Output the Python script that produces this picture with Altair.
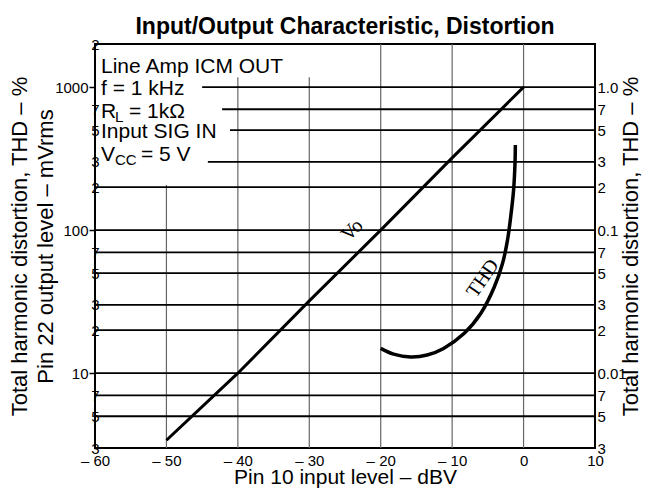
import altair as alt
import pandas as pd

# ---------------- data ----------------
vo_db = [-50, -40, -30, -20, -10, 0]
vo_mv = [3.4, 10, 32, 100, 320, 1000]

thd_db = [-20.0, -18.2, -15.8, -13.5, -11.2, -8.3, -6.0, -4.1, -2.95, -2.25, -1.8, -1.4, -1.2, -1.15]
thd_pct = [0.0149, 0.0136, 0.0130, 0.0134, 0.0149, 0.0190, 0.0261, 0.040, 0.0584,
           0.0851, 0.124, 0.190, 0.292, 0.393]

x_ticks = [-60, -50, -40, -30, -20, -10, 0, 10]
left_decades = [10, 100, 1000]
left_minor = [3, 5, 7, 20, 30, 50, 70, 200, 300, 500, 700, 2000]
right_ticks = [0.003, 0.005, 0.007, 0.01, 0.02, 0.03, 0.05, 0.07, 0.1, 0.2, 0.3, 0.5, 0.7, 1.0]

# horizontal grid lines (mV) and where each one starts (dBV); some start after the note text
hgrid_mv = [5, 7, 10, 20, 30, 50, 70, 100, 200, 300, 500, 700, 1000]
hgrid_start = [-60, -60, -60, -60, -60, -60, -60, -60, -60, -44.2, -41.1, -42.2, -45.0]
hgrid_end = [10] * len(hgrid_mv)
# vertical grid lines (dBV) and their top (mV)
vgrid_db = [-50, -40, -30, -20, -10, 0]
vgrid_top = [207, 1170, 1170, 2000, 2000, 2000]
vgrid_bottom = [3] * len(vgrid_db)

note_main = ["Line Amp ICM OUT", "f = 1 kHz", "R", "Input SIG IN", "V"]
note_main_mv = [1371, 969, 668, 484, 337]
note_sub = ["L", "CC"]
note_sub_mv = [668, 337]
note_tail1 = ["= 1kΩ"]
note_tail1_mv = [668]
note_tail2 = ["= 5 V"]
note_tail2_mv = [337]

curve_labels_vo = ["Vo"]
vo_label_db = [-24]
vo_label_mv = [100]
curve_labels_thd = ["THD"]
thd_label_db = [-5.7]
thd_label_pct = [0.046]

FONT = "Liberation Sans"
SERIF = "Liberation Serif"

# ---------------- scales & axes ----------------
xscale = alt.Scale(domain=[-60, 10], nice=False, zero=False)
mv_scale = alt.Scale(type="log", domain=[3, 2000], nice=False)
thd_scale = alt.Scale(type="log", domain=[0.003, 2], nice=False)

x_axis = alt.Axis(
    values=x_ticks,
    labelExpr="datum.value < 0 ? '– ' + toString(-datum.value) : toString(datum.value)",
    title="Pin 10 input level – dBV",
    grid=False, ticks=False, domain=False,
    labelFont=FONT, labelFontSize=15, labelColor="black", labelPadding=5,
    labelFlush=False, labelOverlap=False,
    titleFont=FONT, titleFontSize=21, titleFontWeight="normal", titleColor="black",
    titleY=35, titleBaseline="alphabetic",
)

decade_axis = alt.Axis(
    orient="left", values=left_decades, format="d",
    grid=False, domain=False, ticks=True, tickSize=6, tickColor="black", tickWidth=1.5,
    labelPadding=1, labelFont=FONT, labelFontSize=15, labelColor="black",
    labelOverlap=False, labelBound=False,
    title="Pin 22 output level – mVrms",
    titleFont=FONT, titleFontSize=22, titleFontWeight="normal", titleColor="black",
    titleAngle=270, titleX=-50, titleY=202, titleBaseline="middle", titleAlign="center",
)

minor_axis = alt.Axis(
    orient="left", values=left_minor,
    labelExpr="slice(toString(datum.value), 0, 1)",
    grid=False, domain=False, ticks=False,
    labelPadding=-4, labelFont=FONT, labelFontSize=15, labelColor="black",
    labelOverlap=False, labelBound=False,
    title="Total harmonic distortion, THD – %",
    titleFont=FONT, titleFontSize=22, titleFontWeight="normal", titleColor="black",
    titleAngle=270, titleX=-76, titleY=202, titleBaseline="middle", titleAlign="center",
)

right_axis = alt.Axis(
    orient="right", values=right_ticks,
    labelExpr="datum.value == 1 ? '1.0' : datum.value == 0.1 ? '0.1' : datum.value == 0.01 ? '0.01' : slice(toString(datum.value), -1)",
    grid=False, domain=False, ticks=False,
    labelPadding=2, labelFont=FONT, labelFontSize=15, labelColor="black",
    labelOverlap=False, labelBound=False,
    title="Total harmonic distortion, THD – %",
    titleFont=FONT, titleFontSize=22, titleFontWeight="normal", titleColor="black",
    titleAngle=270, titleX=35, titleY=202, titleBaseline="middle", titleAlign="center",
)


def X(field):
    return alt.X(field, type="quantitative", scale=xscale, axis=x_axis)


# ---------------- layers ----------------
hgrid = alt.Chart(pd.DataFrame({"mv": hgrid_mv, "start": hgrid_start, "end": hgrid_end})).mark_rule(
    color="black", strokeWidth=1.8
).encode(x=X("start"), x2="end", y=alt.Y("mv:Q", scale=mv_scale, axis=minor_axis))

vgrid = alt.Chart(pd.DataFrame({"db": vgrid_db, "top": vgrid_top, "bottom": vgrid_bottom})).mark_rule(
    color="#666666", strokeWidth=1.2
).encode(x=X("db"), y=alt.Y("bottom:Q", scale=mv_scale, axis=None), y2="top")

vo = alt.Chart(pd.DataFrame({"db": vo_db, "mv": vo_mv})).mark_line(
    color="black", strokeWidth=3
).encode(x=X("db"), y=alt.Y("mv:Q", scale=mv_scale, axis=decade_axis))

thd = alt.Chart(pd.DataFrame({"db": thd_db, "pct": thd_pct, "i": list(range(len(thd_db)))})).mark_line(
    color="black", strokeWidth=3.5, interpolate="catmull-rom"
).encode(x=X("db"), y=alt.Y("pct:Q", scale=thd_scale, axis=right_axis), order="i:Q")


def note_layer(texts, mvs, dx, dy=0, size=21):
    df = pd.DataFrame({"t": texts, "mv": mvs, "db": [-60] * len(texts)})
    return alt.Chart(df).mark_text(
        font=FONT, fontSize=size, align="left", baseline="middle", dx=dx, dy=dy, color="black"
    ).encode(x=X("db"), y=alt.Y("mv:Q", scale=mv_scale, axis=None), text="t:N")


notes_main = note_layer(note_main, note_main_mv, 6)
notes_sub = note_layer(note_sub, note_sub_mv, 20, dy=5, size=15)
notes_t1 = note_layer(note_tail1, note_tail1_mv, 34)
notes_t2 = note_layer(note_tail2, note_tail2_mv, 46)

vo_lab = alt.Chart(pd.DataFrame({"t": curve_labels_vo, "db": vo_label_db, "mv": vo_label_mv})).mark_text(
    font=SERIF, fontSize=20, angle=315, color="black"
).encode(x=X("db"), y=alt.Y("mv:Q", scale=mv_scale, axis=None), text="t:N")

thd_lab = alt.Chart(pd.DataFrame({"t": curve_labels_thd, "db": thd_label_db, "pct": thd_label_pct})).mark_text(
    font=SERIF, fontSize=20, angle=305, color="black"
).encode(x=X("db"), y=alt.Y("pct:Q", scale=thd_scale, axis=None), text="t:N")

chart = alt.layer(
    vgrid, hgrid, notes_main, notes_sub, notes_t1, notes_t2, vo, thd, vo_lab, thd_lab
).resolve_scale(y="independent").properties(
    width=500, height=404,
    autosize=alt.AutoSizeParams(type="none"),
    padding={"left": 87, "top": 36, "right": 48, "bottom": 41},
    background="white",
    title=alt.Title(
        "Input/Output Characteristic, Distortion",
        font=FONT, fontSize=23, fontWeight="bold", color="black", anchor="middle",
        offset=10, dy=12,
    ),
).configure_view(stroke="black", strokeWidth=2)

chart.save("out.html", embed_options={"renderer": "svg", "actions": False})
